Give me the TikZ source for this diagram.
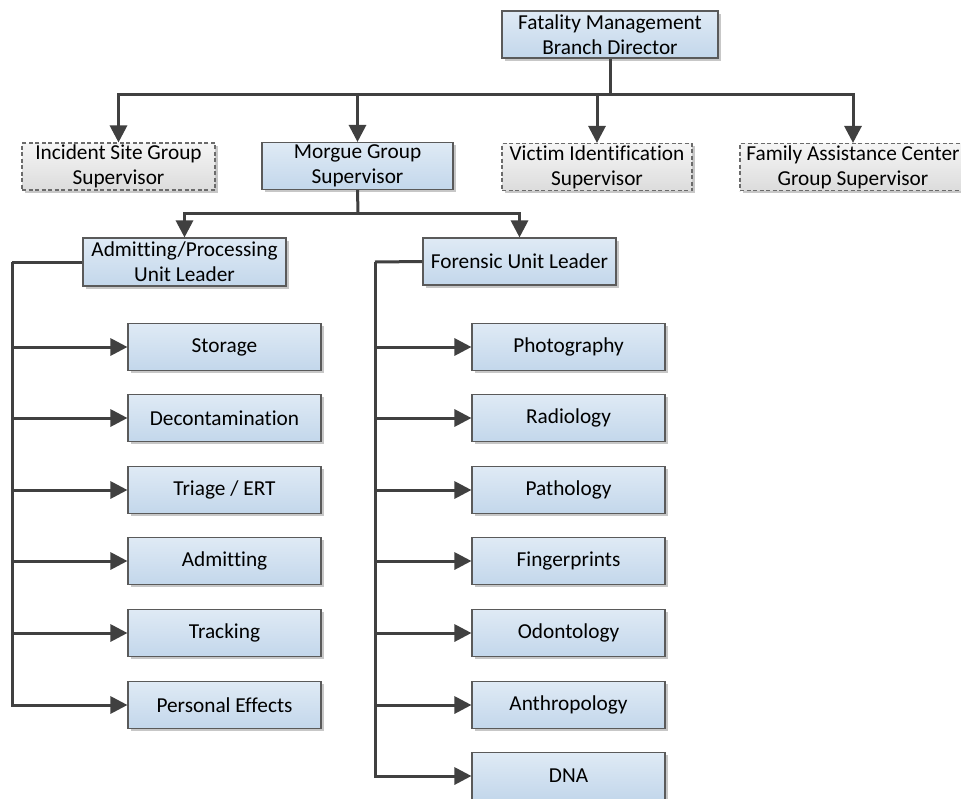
\documentclass[tikz,border=0pt]{standalone}
\usepackage{fontspec}
\setmainfont{Carlito}[Ligatures={NoCommon}]
\usetikzlibrary{arrows.meta,shadows}
\definecolor{linec}{HTML}{404040}
\definecolor{edgec}{HTML}{5A5A5A}
\definecolor{bluetop}{HTML}{DFEAF5}
\definecolor{bluebot}{HTML}{C3D7EB}
\definecolor{graytop}{HTML}{F5F5F5}
\definecolor{graybot}{HTML}{DCDCDC}
\tikzset{
  box/.style={rectangle, draw=edgec, line width=1.1pt, top color=bluetop, bottom color=bluebot,
    align=center, inner sep=0pt, minimum height=47pt,
    font=\fontsize{21.3}{25}\selectfont,
    drop shadow={shadow xshift=2.5pt, shadow yshift=-2.5pt, fill=black!22, opacity=1}},
  dbox/.style={box, draw=edgec!90, dash pattern=on 4pt off 2.5pt, top color=graytop, bottom color=graybot},
  wire/.style={draw=linec, line width=3pt},
  arr/.style={wire, -{Triangle[length=17pt,width=17pt]}},
}
\begin{document}
\begin{tikzpicture}[x=1pt,y=-1pt]
\useasboundingbox (0,0) rectangle (961,798);
\clip (0,0) rectangle (961,798);
\fill[white] (0,0) rectangle (961,798);

% top level
\node[box, minimum width=216pt] (dir) at (610,34.5) {Fatality Management\\Branch Director};

% group supervisors
\node[dbox, minimum width=193pt] (inc) at (118.5,166.5) {Incident Site Group\\Supervisor};
\node[box,  minimum width=191pt] (mor) at (357.5,166) {Morgue Group\\Supervisor};
\node[dbox, minimum width=190pt] (vic) at (597,167) {Victim Identification\\Supervisor};
\node[dbox, minimum width=226pt] (fam) at (853,167) {Family Assistance Center\\Group Supervisor};

% unit leaders
\node[box, minimum width=203pt, minimum height=48pt] (adm) at (184.5,262) {Admitting/Processing\\Unit Leader};
\node[box, minimum width=193pt] (for) at (519.5,261.5) {Forensic Unit Leader};

% admitting/processing units
\node[box, minimum width=193pt] (a1) at (224.5,347) {Storage};
\node[box, minimum width=193pt] (a2) at (224.5,418) {Decontamination};
\node[box, minimum width=193pt] (a3) at (224.5,490) {Triage / ERT};
\node[box, minimum width=193pt] (a4) at (224.5,561) {Admitting};
\node[box, minimum width=193pt] (a5) at (224.5,633) {Tracking};
\node[box, minimum width=193pt] (a6) at (224.5,705) {Personal Effects};

% forensic units
\node[box, minimum width=193pt] (f1) at (568.5,347) {Photography};
\node[box, minimum width=193pt] (f2) at (568.5,418) {Radiology};
\node[box, minimum width=193pt] (f3) at (568.5,490) {Pathology};
\node[box, minimum width=193pt] (f4) at (568.5,561) {Fingerprints};
\node[box, minimum width=193pt] (f5) at (568.5,633) {Odontology};
\node[box, minimum width=193pt] (f6) at (568.5,705) {Anthropology};
\node[box, minimum width=193pt] (f7) at (568.5,776) {DNA};

% bus points
\coordinate (busA) at (610,94);
\coordinate (busB) at (358,213);
\coordinate (spA) at (12,262);
\coordinate (spF) at (375,262);

% director to group supervisors
\draw[wire] (dir.south) -- (busA);
\foreach \t in {inc,mor,vic,fam}
  \draw[arr] (busA) -| (\t.north);

% morgue to unit leaders
\draw[wire] (mor.south) -- (busB);
\draw[arr] (busB) -| (adm.north);
\draw[arr] (busB) -| (for.north);

% unit leaders to units
\draw[wire] (adm.west) -- (spA);
\foreach \t in {a1,a2,a3,a4,a5,a6}
  \draw[arr] (spA) |- (\t.west);
\draw[wire] (for.west) -- (spF);
\foreach \t in {f1,f2,f3,f4,f5,f6,f7}
  \draw[arr] (spF) |- (\t.west);
\end{tikzpicture}
\end{document}
